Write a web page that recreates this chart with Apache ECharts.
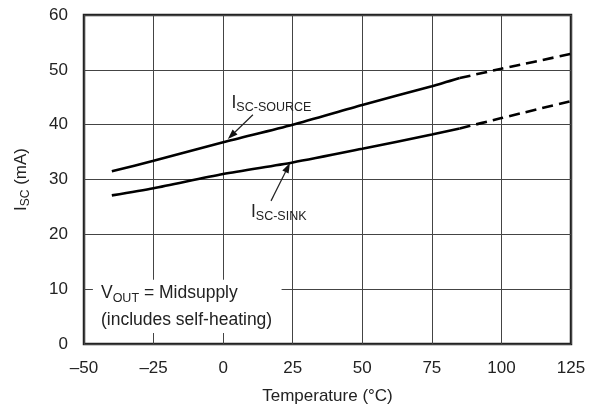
<!DOCTYPE html>
<html><head><meta charset="utf-8">
<script src="https://cdn.jsdelivr.net/npm/echarts@6/dist/echarts.min.js"></script>
<style>html,body{margin:0;padding:0;background:#fff}#c{width:598px;height:410px}</style>
</head><body><div id="c"></div>
<script>
// Data
const tempSolid = [-40, -25, 0, 25, 50, 75, 85];
const sourceSolid = [31.5, 33.4, 36.8, 40.0, 43.6, 47.0, 48.5];
const sinkSolid = [27.1, 28.4, 31.0, 33.1, 35.6, 38.2, 39.3];
const tempDashed = [85, 100, 125];
const sourceDashed = [48.5, 50.2, 52.9];
const sinkDashed = [39.3, 41.2, 44.3];
const xTicks = [-50, -25, 0, 25, 50, 75, 100, 125];
const yTicks = [0, 10, 20, 30, 40, 50, 60];

const pair = (xs, ys) => xs.map((x, i) => [x, ys[i]]);
const FONT = '"Liberation Sans", Arial, Helvetica, sans-serif';
const TXT = '#222';
const chart = echarts.init(document.getElementById('c'));
const lineStyle = (type) => ({ color: '#000', width: 2.6, type: type });
const mkSeries = (data, type) => ({
  type: 'line', data: data, smooth: 0.25, symbol: 'none',
  lineStyle: lineStyle(type), silent: true, animation: false
});
chart.setOption({
  backgroundColor: '#fff',
  animation: false,
  grid: { left: 84, right: 27, top: 15, bottom: 66, show: true, borderColor: '#222', borderWidth: 2.5 },
  xAxis: {
    type: 'value', min: xTicks[0], max: xTicks[xTicks.length - 1], interval: 25,
    name: 'Temperature (°C)', nameLocation: 'middle', nameGap: 44,
    nameTextStyle: { fontFamily: FONT, fontSize: 17, color: TXT },
    axisLine: { show: false }, axisTick: { show: false },
    axisLabel: { fontFamily: FONT, fontSize: 17, color: TXT, margin: 16,
      formatter: v => String(v).replace('-', '\u2013') },
    splitLine: { lineStyle: { color: '#444', width: 1 } }
  },
  yAxis: {
    type: 'value', min: yTicks[0], max: yTicks[yTicks.length - 1], interval: 10,
    name: '{a|I}{s|SC}{a| (mA)}', nameLocation: 'middle', nameGap: 52,
    nameTextStyle: { fontFamily: FONT, fontSize: 17, color: TXT,
      rich: { a: { fontFamily: FONT, fontSize: 17, color: TXT, lineHeight: 22 },
              s: { fontFamily: FONT, fontSize: 12, color: TXT, verticalAlign: 'bottom', lineHeight: 14 } } },
    axisLine: { show: false }, axisTick: { show: false },
    axisLabel: { fontFamily: FONT, fontSize: 17, color: TXT, margin: 16 },
    splitLine: { lineStyle: { color: '#444', width: 1 } }
  },
  series: [
    mkSeries(pair(tempSolid, sourceSolid), 'solid'),
    mkSeries(pair(tempSolid, sinkSolid), 'solid'),
    mkSeries(pair(tempDashed, sourceDashed), [11, 6]),
    mkSeries(pair(tempDashed, sinkDashed), [11, 6])
  ]
});

const P = (x, y) => chart.convertToPixel({ gridIndex: 0 }, [x, y]);
const richLbl = {
  a: { fontFamily: FONT, fontSize: 17.5, color: TXT, lineHeight: 22 },
  s: { fontFamily: FONT, fontSize: 12.5, color: TXT, verticalAlign: 'bottom', lineHeight: 14 }
};
function arrow(from, to) {
  const a = P(from[0], from[1]), b = P(to[0], to[1]);
  const dx = b[0] - a[0], dy = b[1] - a[1], L = Math.hypot(dx, dy);
  const ux = dx / L, uy = dy / L, hl = 10, hw = 3.5;
  const bx = b[0] - ux * hl, by = b[1] - uy * hl;
  return [
    { type: 'line', shape: { x1: a[0], y1: a[1], x2: bx, y2: by }, style: { stroke: '#222', lineWidth: 1.2 }, silent: true },
    { type: 'polygon', shape: { points: [[b[0], b[1]], [bx - uy * hw, by + ux * hw], [bx + uy * hw, by - ux * hw]] }, style: { fill: '#111' }, silent: true }
  ];
}
const boxTL = P(-46.8, 11.7), boxBR = P(21, 2);
const srcLbl = P(3.0, 44.0), snkLbl = P(10.0, 24.0);
const v1 = P(-43.9, 9.2), v2 = P(-43.9, 4.3);
chart.setOption({
  graphic: [
    { type: 'rect', shape: { x: boxTL[0], y: boxTL[1], width: boxBR[0] - boxTL[0], height: boxBR[1] - boxTL[1] }, style: { fill: '#fff' }, silent: true, z: 10 },
    { type: 'text', x: v1[0], y: v1[1], z: 11, style: { text: '{a|V}{s|OUT}{a| = Midsupply}', rich: richLbl, verticalAlign: 'middle', fill: TXT } },
    { type: 'text', x: v2[0], y: v2[1], z: 11, style: { text: '(includes self-heating)', font: '17.5px ' + FONT, verticalAlign: 'middle', fill: TXT } },
    { type: 'text', x: srcLbl[0], y: srcLbl[1], z: 11, style: { text: '{a|I}{s|SC-SOURCE}', rich: richLbl, verticalAlign: 'middle', fill: TXT } },
    { type: 'text', x: snkLbl[0], y: snkLbl[1], z: 11, style: { text: '{a|I}{s|SC-SINK}', rich: richLbl, verticalAlign: 'middle', fill: TXT } },
    ...arrow([10.7, 41.8], [1.7, 37.4]),
    ...arrow([17.2, 26.1], [24.0, 33.0])
  ]
});
</script></body></html>
